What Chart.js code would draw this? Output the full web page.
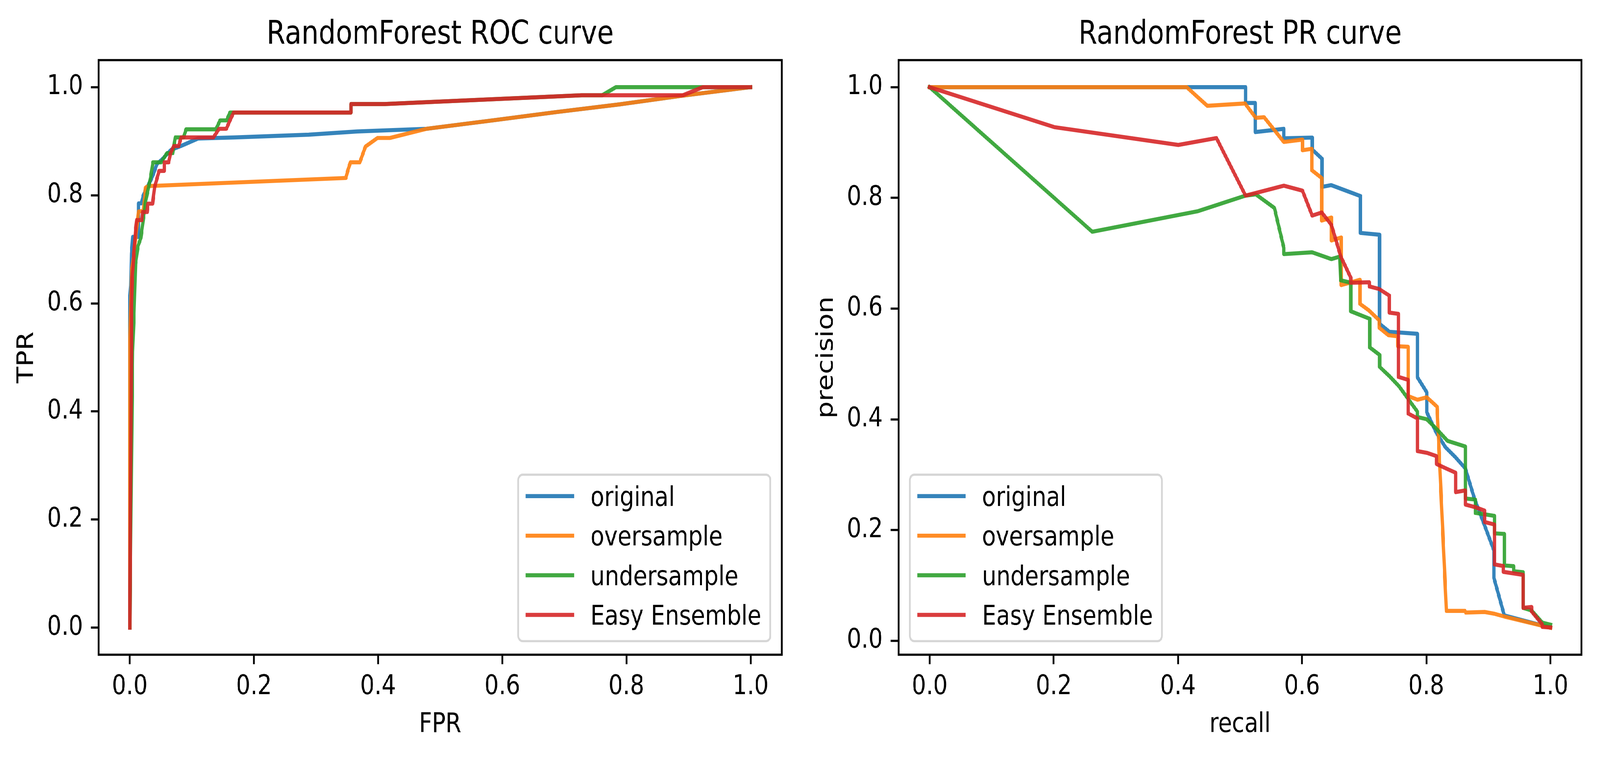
<!DOCTYPE html>
<html>
<head>
<meta charset="utf-8">
<script src="https://cdn.jsdelivr.net/npm/chart.js@4.4.1/dist/chart.umd.min.js"></script>
<style>
  html, body { margin: 0; padding: 0; background: #fff; overflow: hidden; }
  #outer { position: relative; overflow: hidden; width: 4927px; height: 1939px; }
  #wrap { position: absolute; left: 0; top: 0; width: 4927px; height: 1939px; overflow: hidden; transform-origin: 0 0; }
  canvas { position: absolute; top: 0; }
</style>
</head>
<body>
<div id="outer">
<div id="wrap">
  <canvas id="roc" width="2711" height="1939" style="left:0;width:2711px;height:1939px"></canvas>
  <canvas id="pr" width="2711" height="1939" style="left:2463px;width:2711px;height:1939px"></canvas>
</div>
</div>
<script>
// curve data, [x, y] pairs
const seriesNames = ["original", "oversample", "undersample", "Easy Ensemble"];
const axisTicks = [0, 0.2, 0.4, 0.6, 0.8, 1.0];

// ROC: [FPR, TPR]
const rocOriginal = [[0,0],[0,0.61],[0.0016,0.633],[0.0027,0.692],[0.0048,0.723],[0.0141,0.723],[0.0141,0.785],[0.0187,0.785],[0.022,0.80],[0.0264,0.812],[0.0334,0.8265],[0.0386,0.841],[0.0438,0.858],[0.0526,0.867],[0.0665,0.884],[0.0822,0.891],[0.110,0.905],[0.169,0.907],[0.288,0.912],[0.366,0.918],[0.478,0.923],[0.588,0.939],[0.688,0.954],[0.788,0.968],[0.8885,0.984],[1,1]];
const rocOversample = [[0,0],[0,0.52],[0.003,0.66],[0.0064,0.69],[0.0142,0.77],[0.022,0.771],[0.0255,0.8144],[0.030,0.817],[0.348,0.832],[0.3515,0.847],[0.3554,0.861],[0.3706,0.861],[0.3796,0.890],[0.399,0.906],[0.419,0.906],[0.478,0.923],[0.588,0.939],[0.688,0.954],[0.788,0.968],[0.8885,0.984],[1,1]];
const rocUndersample = [[0,0],[0.0045,0.511],[0.0066,0.570],[0.0093,0.673],[0.0133,0.706],[0.0179,0.721],[0.0254,0.7875],[0.028,0.802],[0.0334,0.832],[0.0374,0.861],[0.0507,0.861],[0.060,0.878],[0.0694,0.878],[0.0734,0.907],[0.0867,0.907],[0.0907,0.922],[0.1388,0.922],[0.1455,0.9385],[0.156,0.9385],[0.1614,0.953],[0.3562,0.953],[0.3562,0.9687],[0.4105,0.9687],[0.728,0.985],[0.761,0.985],[0.783,1.0],[1,1]];
const rocEasyEnsemble = [[0,0],[0.0027,0.511],[0.0027,0.60],[0.004,0.6475],[0.0093,0.736],[0.0112,0.754],[0.0195,0.754],[0.0206,0.769],[0.028,0.769],[0.0293,0.7845],[0.0368,0.7845],[0.040,0.815],[0.0472,0.845],[0.0555,0.845],[0.0555,0.861],[0.0627,0.861],[0.0654,0.8766],[0.0707,0.891],[0.0787,0.891],[0.0827,0.907],[0.1347,0.907],[0.144,0.923],[0.1556,0.923],[0.1614,0.9385],[0.1673,0.953],[0.3562,0.953],[0.3562,0.9687],[0.4105,0.9687],[0.728,0.985],[0.891,0.985],[0.923,1.0],[1,1]];

// PR: [recall, precision]
const prOriginal = [[0,1],[0.509,1],[0.509,0.9714],[0.5246,0.9714],[0.5246,0.9189],[0.5706,0.9247],[0.5706,0.9076],[0.6163,0.9089],[0.6163,0.8873],[0.632,0.8707],[0.632,0.8199],[0.647,0.823],[0.694,0.8032],[0.694,0.7367],[0.7247,0.7334],[0.7247,0.5726],[0.7406,0.5581],[0.7857,0.5545],[0.7857,0.476],[0.8008,0.4488],[0.8008,0.4128],[0.8157,0.3769],[0.831,0.3494],[0.847,0.3315],[0.863,0.3112],[0.8775,0.257],[0.894,0.208],[0.909,0.163],[0.909,0.1135],[0.9257,0.0458],[1,0.0236]];
const prOversample = [[0,1],[0.414,1],[0.4473,0.9663],[0.508,0.9705],[0.5255,0.9445],[0.5387,0.9457],[0.5706,0.901],[0.6006,0.9053],[0.6006,0.886],[0.6156,0.8886],[0.6156,0.850],[0.6316,0.8357],[0.6316,0.759],[0.6473,0.7645],[0.6473,0.723],[0.663,0.7285],[0.663,0.6424],[0.6933,0.652],[0.6933,0.6085],[0.7073,0.597],[0.724,0.579],[0.724,0.5657],[0.739,0.552],[0.754,0.550],[0.754,0.532],[0.7707,0.531],[0.7707,0.442],[0.786,0.4354],[0.8008,0.4398],[0.8174,0.4227],[0.8324,0.054],[0.8624,0.054],[0.8635,0.051],[0.894,0.052],[0.909,0.049],[0.926,0.0437],[1,0.0236]];
const prUndersample = [[0,1],[0.262,0.7388],[0.4325,0.776],[0.5089,0.8041],[0.5255,0.8063],[0.5554,0.7817],[0.5706,0.7097],[0.5706,0.6984],[0.6161,0.7017],[0.6473,0.6894],[0.6606,0.6939],[0.6621,0.6512],[0.6784,0.6467],[0.6784,0.5952],[0.709,0.5815],[0.709,0.5298],[0.7249,0.5162],[0.7249,0.4947],[0.7406,0.4781],[0.7558,0.4601],[0.7856,0.414],[0.7856,0.4041],[0.8007,0.4002],[0.8175,0.3815],[0.8342,0.3611],[0.863,0.3508],[0.863,0.257],[0.879,0.255],[0.879,0.231],[0.9098,0.2256],[0.9098,0.194],[0.9257,0.193],[0.9257,0.136],[0.9407,0.1347],[0.9407,0.1255],[0.956,0.1238],[0.956,0.0594],[0.9696,0.0547],[0.9868,0.0327],[1,0.029]];
const prEasyEnsemble = [[0,1],[0.2007,0.9278],[0.4006,0.8956],[0.462,0.908],[0.5089,0.804],[0.5706,0.822],[0.6006,0.813],[0.6163,0.768],[0.6316,0.7736],[0.6473,0.751],[0.6623,0.694],[0.6784,0.6557],[0.6784,0.6467],[0.7083,0.6476],[0.7083,0.640],[0.724,0.6354],[0.7406,0.6234],[0.7406,0.5927],[0.755,0.5905],[0.755,0.4767],[0.7707,0.4713],[0.7707,0.4106],[0.7857,0.4016],[0.7857,0.3427],[0.8008,0.3395],[0.8164,0.3336],[0.8164,0.3194],[0.8324,0.311],[0.8473,0.3035],[0.8473,0.2685],[0.863,0.2716],[0.863,0.246],[0.8784,0.2415],[0.894,0.235],[0.894,0.2145],[0.9098,0.210],[0.9098,0.138],[0.9242,0.135],[0.9242,0.1245],[0.956,0.119],[0.956,0.0594],[0.9696,0.061],[0.9696,0.0531],[0.9868,0.0296],[0.9868,0.025],[1,0.024]];

const colors = ["rgba(31,119,180,0.9)", "rgba(255,127,14,0.9)", "rgba(44,160,44,0.9)", "rgba(214,39,40,0.9)"];

const PT = 500 / 72;   // px per point, figure was saved at 500 dpi
const FONT = "DejaVu Sans";

// the page is laid out at 4927x1939; stretch it onto the viewport we really got
const sx = window.innerWidth / 4927, sy = window.innerHeight / 1939;
const outer = document.getElementById("outer");
outer.style.width = window.innerWidth + "px";
outer.style.height = window.innerHeight + "px";
document.getElementById("wrap").style.transform = "scale(" + sx + "," + sy + ")";

// black box round the plot area (matplotlib spines)
const axesFrame = {
  id: "axesFrame",
  afterDatasetsDraw(chart) {
    const { ctx, chartArea: a } = chart;
    ctx.save();
    ctx.strokeStyle = "#000";
    ctx.lineWidth = 0.8 * PT;
    ctx.strokeRect(a.left, a.top, a.right - a.left, a.bottom - a.top);
    ctx.restore();
  }
};

// matplotlib style legend inside the axes
const boxLegend = {
  id: "boxLegend",
  afterDraw(chart, args, opts) {
    const ctx = chart.ctx, area = chart.chartArea;
    const fs = 10 * PT;
    ctx.save();
    ctx.font = fs + "px '" + FONT + "'";
    const sets = chart.data.datasets;
    const textW = Math.max(...sets.map(d => ctx.measureText(d.label).width));
    const pad = 0.4 * fs, handle = 2 * fs, gap = 0.8 * fs, axPad = 0.5 * fs;
    const rowH = 0.96 * fs, spacing = 0.5 * fs;
    const w = pad + handle + gap + textW + pad;
    const h = 2 * pad + sets.length * rowH + (sets.length - 1) * spacing;
    const left = opts.side === "right" ? area.right - axPad - w : area.left + axPad;
    const top = area.bottom - axPad - h;

    ctx.beginPath();
    ctx.roundRect(left, top, w, h, 0.2 * fs);
    ctx.fillStyle = "rgba(255,255,255,0.8)";
    ctx.fill();
    ctx.lineWidth = 0.8 * PT;
    ctx.strokeStyle = "rgba(204,204,204,0.8)";
    ctx.stroke();

    sets.forEach((d, i) => {
      const y = top + pad + 0.39 * fs + i * (rowH + spacing);
      ctx.beginPath();
      ctx.moveTo(left + pad, y);
      ctx.lineTo(left + pad + handle, y);
      ctx.strokeStyle = d.borderColor;
      ctx.lineWidth = d.borderWidth;
      ctx.lineCap = "square";
      ctx.stroke();
      ctx.fillStyle = "#000";
      ctx.textBaseline = "alphabetic";
      ctx.textAlign = "left";
      ctx.fillText(d.label, left + pad + handle + gap, y + 0.36 * fs);
    });
    ctx.restore();
  }
};

function makeChart(id, title, xLabel, yLabel, curves, yMin, yMax, legendSide) {
  const tickFont = { family: FONT, size: 10 * PT, lineHeight: 1.2 };
  const grid = { display: true, drawOnChartArea: false, drawTicks: true,
                 tickLength: 3.5 * PT, tickWidth: 0.8 * PT, tickColor: "#000" };
  return new Chart(document.getElementById(id), {
    type: "scatter",
    data: {
      datasets: curves.map((pts, i) => ({
        label: seriesNames[i],
        data: pts.map(p => ({ x: p[0], y: p[1] })),
        borderColor: colors[i],
        backgroundColor: colors[i],
        borderWidth: 1.5 * PT,
        pointRadius: 0,
        showLine: true,
        fill: false,
        tension: 0,
        borderJoinStyle: "round",
        borderCapStyle: "square",
        order: curves.length - i
      }))
    },
    options: {
      responsive: false,
      animation: false,
      devicePixelRatio: 1,
      layout: { padding: 0 },
      plugins: {
        legend: { display: false },
        tooltip: { enabled: false },
        title: {
          display: true, text: title, color: "#000",
          font: { family: FONT, size: 12 * PT, weight: "normal", lineHeight: 1.2 },
          padding: { top: 40.6, bottom: 13.4 }
        },
        boxLegend: { side: legendSide }
      },
      scales: {
        x: {
          type: "linear", min: -0.05, max: 1.05,
          afterBuildTicks: s => { s.ticks = axisTicks.map(v => ({ value: v })); },
          afterFit: s => { s.height = 262; },
          grid: grid,
          border: { display: false },
          ticks: { font: tickFont, color: "#000", padding: 17, maxRotation: 0, autoSkip: false,
                   callback: v => v.toFixed(1) },
          title: { display: true, text: xLabel, color: "#000", font: tickFont,
                   padding: { top: 0, bottom: 40 } }
        },
        y: {
          type: "linear", min: yMin, max: yMax,
          afterBuildTicks: s => { s.ticks = axisTicks.map(v => ({ value: v })); },
          afterFit: s => { s.width = 304; },
          grid: grid,
          border: { display: false },
          ticks: { font: tickFont, color: "#000", padding: 3.5 * PT, autoSkip: false,
                   callback: v => v.toFixed(1) },
          title: { display: true, text: yLabel, color: "#000", font: tickFont,
                   padding: { top: 41, bottom: 0 } }
        },
        // empty spacer on the right so the plot box and its title stay centred
        spacer: {
          type: "linear", position: "right", min: 0, max: 1,
          afterFit: s => { s.width = 304; },
          grid: { display: false },
          border: { display: false },
          ticks: { display: false }
        }
      }
    },
    plugins: [axesFrame, boxLegend]
  });
}

makeChart("roc", "RandomForest ROC curve", "FPR", "TPR",
  [rocOriginal, rocOversample, rocUndersample, rocEasyEnsemble], -0.05, 1.05, "right");
makeChart("pr", "RandomForest PR curve", "recall", "precision",
  [prOriginal, prOversample, prUndersample, prEasyEnsemble], -0.0252, 1.0488, "left");
</script>
</body>
</html>
